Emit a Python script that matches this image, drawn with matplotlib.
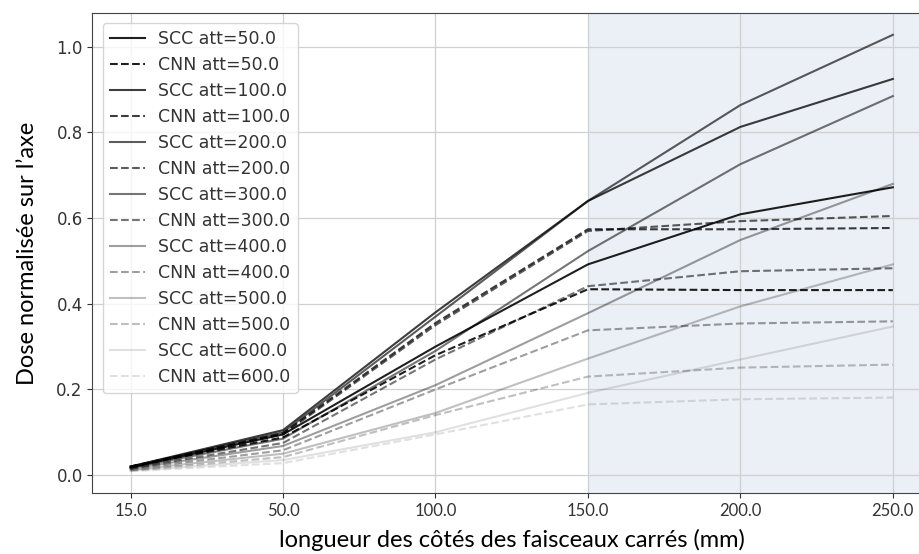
import matplotlib
matplotlib.use("Agg")
import matplotlib.pyplot as plt

sizes = ["15.0", "50.0", "100.0", "150.0", "200.0", "250.0"]
atts = [50.0, 100.0, 200.0, 300.0, 400.0, 500.0, 600.0]

scc_att50 = [0.018, 0.095, 0.300, 0.492, 0.609, 0.672]
scc_att100 = [0.020, 0.105, 0.380, 0.640, 0.813, 0.925]
scc_att200 = [0.020, 0.100, 0.370, 0.640, 0.864, 1.028]
scc_att300 = [0.017, 0.085, 0.290, 0.523, 0.726, 0.885]
scc_att400 = [0.015, 0.068, 0.210, 0.378, 0.549, 0.680]
scc_att500 = [0.012, 0.050, 0.145, 0.272, 0.394, 0.492]
scc_att600 = [0.010, 0.035, 0.100, 0.192, 0.270, 0.347]

cnn_att50 = [0.020, 0.088, 0.280, 0.434, 0.432, 0.432]
cnn_att100 = [0.020, 0.098, 0.355, 0.574, 0.574, 0.577]
cnn_att200 = [0.019, 0.095, 0.350, 0.570, 0.593, 0.605]
cnn_att300 = [0.016, 0.075, 0.270, 0.441, 0.476, 0.483]
cnn_att400 = [0.014, 0.058, 0.200, 0.338, 0.354, 0.359]
cnn_att500 = [0.011, 0.042, 0.140, 0.230, 0.251, 0.258]
cnn_att600 = [0.009, 0.028, 0.095, 0.165, 0.177, 0.181]

scc_all = [scc_att50, scc_att100, scc_att200, scc_att300, scc_att400, scc_att500, scc_att600]
cnn_all = [cnn_att50, cnn_att100, cnn_att200, cnn_att300, cnn_att400, cnn_att500, cnn_att600]
alphas = [0.88, 0.76, 0.64, 0.54, 0.38, 0.25, 0.12]

fig = plt.figure(figsize=(9.2, 5.54), dpi=100)
ax = fig.add_axes([0.1005, 0.110, 0.9114, 0.8665])

x = list(range(len(sizes)))
for att, s, c, a in zip(atts, scc_all, cnn_all, alphas):
    ax.plot(x, s, color="k", alpha=a, lw=1.5, ls="-", label=f"SCC att={att}")
    ax.plot(x, c, color="k", alpha=a, lw=1.5, ls="--", label=f"CNN att={att}")

ax.set_xticks(x)
ax.set_xticklabels(sizes, family="Lato", fontsize=12)
ax.tick_params(axis="y", labelsize=12, colors="#333333")
ax.tick_params(axis="x", colors="#333333")
ax.grid(True, color="#d0d0d0", lw=0.9)
ax.axvspan(3, 6, color="lightsteelblue", alpha=0.25, lw=0)
ax.set_xlim(-0.25, 5.25)
for sp in ax.spines.values():
    sp.set_color("#444444")

ax.set_xlabel("longueur des côtés des faisceaux carrés (mm)", family="Lato", fontsize=17, labelpad=7)
ax.set_ylabel("Dose normalisée sur l’axe", family="Lato", fontsize=17, labelpad=13)
leg = ax.legend(loc="upper left", fontsize=12.5, labelspacing=0.46, handlelength=2.0,
                borderaxespad=0.6)
for t in leg.get_texts():
    t.set_color("#333333")

fig.savefig("out.png", dpi=100)
